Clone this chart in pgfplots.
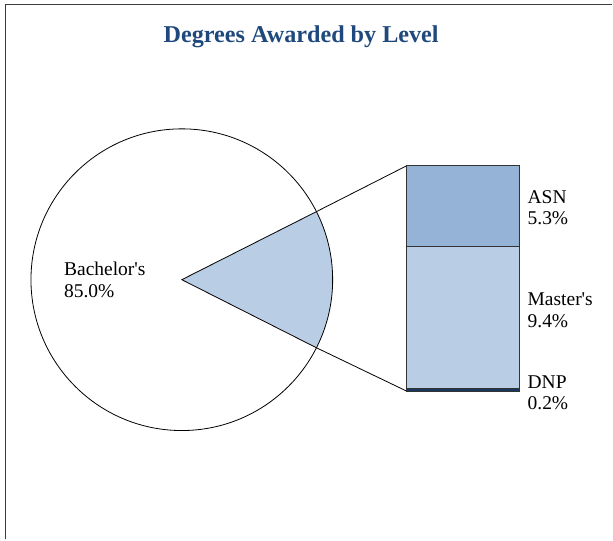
\documentclass[border=0pt]{standalone}
\usepackage{pgfplots}
\pgfplotsset{compat=1.18}
\usepackage{fontspec}
\setmainfont{Liberation Serif}
\definecolor{titlecol}{RGB}{31,73,125}
\definecolor{asncol}{RGB}{149,179,215}
\definecolor{mastcol}{RGB}{185,205,229}
\definecolor{dnpcol}{RGB}{23,55,94}
\definecolor{framecol}{RGB}{60,60,60}
% data (percent)
\def\valBach{85.0}
\def\valASN{5.3}
\def\valMast{9.4}
\def\valDNP{0.2}
\begin{document}
\begin{tikzpicture}
\pgfmathsetmacro\other{\valASN+\valMast+\valDNP}
\pgfmathsetmacro\half{\other*3.6/2}
\pgfmathsetmacro\px{182+151*cos(\half)}
\pgfmathsetmacro\pyu{260+151*sin(\half)}
\pgfmathsetmacro\pyl{260-151*sin(\half)}
\begin{axis}[
  scale only axis, width=613pt, height=540pt,
  xmin=0, xmax=613, ymin=0, ymax=540,
  hide axis, clip=false]
  \path (axis cs:0,0) rectangle (axis cs:613,540);
  \draw[framecol, line width=1.3pt] (axis cs:5.5,0) -- (axis cs:5.5,535.5) -- (axis cs:613,535.5);
  \node[font=\fontsize{24.2}{28}\selectfont\bfseries, text=titlecol, inner sep=0pt] at (axis cs:301.5,503) {Degrees Awarded by Level};
  % pie
  \fill[mastcol] (axis cs:182,260) -- ++(-\half:151pt) arc[start angle=-\half, end angle=\half, radius=151pt] -- cycle;
  \draw[black, line width=0.8pt] (axis cs:182,260) circle[radius=151pt];
  \draw[black, line width=0.8pt] (axis cs:\px,\pyu) -- (axis cs:182,260) -- (axis cs:\px,\pyl);
  % connectors
  \draw[black, line width=0.8pt] (axis cs:\px,\pyu) -- (axis cs:407,374);
  \draw[black, line width=0.8pt] (axis cs:\px,\pyl) -- (axis cs:407,148.5);
  \node[font=\fontsize{19.5}{21.5}\selectfont, align=left, anchor=west, inner sep=0pt] at (axis cs:64,260) {Bachelor\textquotesingle s\\\valBach\%};
  \node[font=\fontsize{19.5}{21.5}\selectfont, align=left, anchor=west, inner sep=0pt] at (axis cs:528,332) {ASN\\\valASN\%};
  \node[font=\fontsize{19.5}{21.5}\selectfont, align=left, anchor=west, inner sep=0pt] at (axis cs:528,229.5) {Master\textquotesingle s\\\valMast\%};
  \node[font=\fontsize{19.5}{21.5}\selectfont, align=left, anchor=west, inner sep=0pt] at (axis cs:528,147) {DNP\\\valDNP\%};
\end{axis}
\begin{axis}[
  at={(407pt,148.5pt)}, anchor=south west,
  scale only axis, width=112.5pt, height=225.5pt,
  xmin=0, xmax=1, ymin=0, ymax=14.9,
  hide axis, clip=false,
  ybar stacked, bar width=112.5pt]
  \addplot[fill=dnpcol, draw=black!80, line width=0.8pt] coordinates {(0.5,\valDNP)};
  \addplot[fill=mastcol, draw=black!80, line width=0.8pt] coordinates {(0.5,\valMast)};
  \addplot[fill=asncol, draw=black!80, line width=0.8pt] coordinates {(0.5,\valASN)};
\end{axis}
\end{tikzpicture}
\end{document}
